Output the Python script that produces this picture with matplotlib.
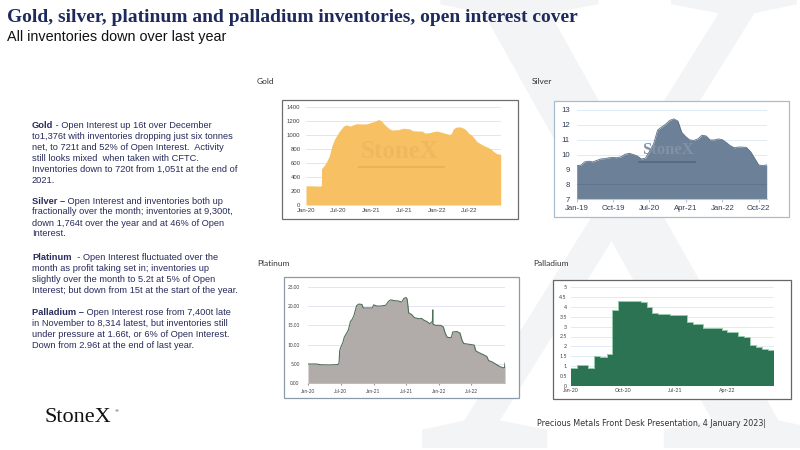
import numpy as np
import pandas as pd
import matplotlib
matplotlib.use('Agg')
from matplotlib import pyplot as plt
import matplotlib.dates as mdates
from matplotlib.patches import Rectangle, PathPatch
from matplotlib.textpath import TextPath
from matplotlib.font_manager import FontProperties
from matplotlib.transforms import Affine2D

W, H = 800, 450

# ---- data ----
gold_dates = ['2020-01-01', '2020-02-01', '2020-03-01', '2020-03-19', '2020-03-27', '2020-03-28',
              '2020-04-16', '2020-04-25', '2020-05-10', '2020-05-25', '2020-06-10', '2020-07-04',
              '2020-07-25', '2020-08-07', '2020-08-19', '2020-09-04', '2020-09-22', '2020-10-10',
              '2020-11-16', '2020-12-10', '2020-12-25', '2021-01-19', '2021-02-10', '2021-02-26',
              '2021-03-13', '2021-03-25', '2021-04-13', '2021-04-25', '2021-06-01', '2021-06-28',
              '2021-08-04', '2021-08-19', '2021-09-16', '2021-10-10', '2021-10-28', '2021-11-19',
              '2021-12-04', '2022-01-01', '2022-02-01', '2022-02-28', '2022-03-16', '2022-03-25',
              '2022-04-04', '2022-04-19', '2022-05-10', '2022-06-01', '2022-06-16', '2022-06-28',
              '2022-07-16', '2022-08-01', '2022-08-13', '2022-09-01', '2022-09-19', '2022-10-19',
              '2022-11-01', '2022-11-16', '2022-12-04', '2022-12-25']
gold_tonnes = [275, 275, 272, 270, 280, 520, 580, 620, 700, 850, 950, 1050,
               1120, 1145, 1145, 1130, 1150, 1165, 1160, 1165, 1180, 1200, 1225, 1205,
               1160, 1130, 1090, 1075, 1080, 1100, 1090, 1065, 1060, 1060, 1030, 1035,
               1045, 1060, 1040, 1020, 1010, 1030, 1090, 1115, 1120, 1100, 1070, 1030,
               1000, 950, 910, 880, 855, 820, 800, 765, 735, 725]

silver_dates = pd.date_range('2019-01-01', '2022-12-01', freq='MS')
silver_kt = [9.25, 9.28, 9.5, 9.55, 9.5, 9.6, 9.7, 9.72, 9.78, 9.8, 9.78, 9.85,
             10.02, 10.08, 10.0, 9.9, 9.7, 9.75, 10.2, 10.7, 11.65, 11.85, 12.05, 12.3,
             12.4, 12.25, 11.5, 11.2, 10.98, 10.95, 11.05, 11.3, 11.25, 10.98, 10.98, 11.05,
             11.0, 10.8, 10.6, 10.45, 10.5, 10.5, 10.48, 10.2, 9.75, 9.3, 9.25, 9.3]

plat_dates = ['2020-01-01', '2020-02-16', '2020-03-13', '2020-05-01', '2020-06-16', '2020-06-22',
              '2020-06-26', '2020-07-01', '2020-07-13', '2020-07-22', '2020-08-04', '2020-08-13',
              '2020-08-25', '2020-09-04', '2020-09-13', '2020-09-22', '2020-09-28', '2020-10-10',
              '2020-10-28', '2020-11-04', '2020-12-25', '2021-01-01', '2021-01-19', '2021-02-10',
              '2021-03-10', '2021-03-25', '2021-04-07', '2021-04-25', '2021-05-19', '2021-06-07',
              '2021-06-19', '2021-07-01', '2021-07-07', '2021-07-16', '2021-08-01', '2021-08-16',
              '2021-09-10', '2021-09-25', '2021-10-10', '2021-10-25', '2021-11-10', '2021-11-19',
              '2021-11-25', '2021-11-27', '2021-11-28', '2021-12-13', '2022-01-10', '2022-01-25',
              '2022-02-04', '2022-02-16', '2022-03-10', '2022-03-19', '2022-04-10', '2022-04-28',
              '2022-05-10', '2022-05-19', '2022-06-16', '2022-07-16', '2022-07-25', '2022-08-13',
              '2022-09-10', '2022-09-25', '2022-10-04', '2022-10-25', '2022-11-16', '2022-12-07',
              '2022-12-28', '2023-01-01', '2023-01-04']
plat_tonnes = [5.0, 5.0, 4.8, 4.75, 4.85, 5.2,
               8.5, 9.2, 10.5, 12.0, 13.0, 13.8,
               16.0, 16.6, 17.5, 19.0, 20.1, 20.5,
               20.4, 19.5, 19.5, 20.3, 20.0, 20.0,
               20.2, 21.2, 21.6, 21.4, 21.3, 21.0,
               22.0, 22.2, 21.8, 18.2, 17.8, 17.0,
               16.7, 16.8, 16.3, 16.0, 15.4, 15.8,
               16.0, 19.0, 15.3, 15.0, 15.0, 14.6,
               13.0, 11.9, 11.8, 13.3, 13.4, 13.0,
               11.0, 10.3, 10.1, 9.9, 8.4, 7.9,
               7.3, 6.9, 5.9, 5.5, 4.9, 4.3,
               4.0, 4.0, 5.2]

pall_dates = ['2020-01-01', '2020-02-01', '2020-04-01', '2020-05-01', '2020-06-01', '2020-07-08',
              '2020-08-01', '2020-09-01', '2021-01-01', '2021-02-01', '2021-03-01', '2021-04-01',
              '2021-06-01', '2021-09-01', '2021-10-01', '2021-11-24', '2022-03-01', '2022-04-01',
              '2022-05-25', '2022-06-28', '2022-07-28', '2022-08-28', '2022-09-30', '2022-10-28',
              '2022-12-01']
pall_tonnes = [0.92, 1.08, 0.93, 1.52, 1.46, 1.64,
               3.85, 4.29, 4.26, 3.97, 3.68, 3.63,
               3.57, 3.22, 3.13, 2.93, 2.81, 2.71,
               2.55, 2.48, 2.09, 1.97, 1.86, 1.82,
               1.82]

gold_ticks = ['2020-01-01', '2020-07-01', '2021-01-01', '2021-07-01', '2022-01-01', '2022-07-01']
silver_ticks = ['2019-01-01', '2019-10-01', '2020-07-01', '2021-04-01', '2022-01-01', '2022-10-01']
plat_ticks = gold_ticks
pall_ticks = ['2020-01-01', '2020-10-01', '2021-07-01', '2022-04-01']

title = 'Gold, silver, platinum and palladium inventories, open interest cover'
subtitle = 'All inventories down over last year'
footer = 'Precious Metals Front Desk Presentation, 4 January 2023|'

paragraphs = [
    ('Gold', [' - Open Interest up 16t over December',
              'to1,376t with inventories dropping just six tonnes',
              'net, to 721t and 52% of Open Interest.  Activity',
              'still looks mixed  when taken with CFTC.',
              'Inventories down to 720t from 1,051t at the end of',
              '2021.'], 125.7),
    ('Silver \u2013', [' Open Interest and inventories both up',
                       'fractionally over the month; inventories at 9,300t,',
                       'down 1,764t over the year and at 46% of Open',
                       'Interest.'], 201),
    ('Platinum', ['  - Open Interest fluctuated over the',
                  'month as profit taking set in; inventories up',
                  'slightly over the month to 5.2t at 5% of Open',
                  'Interest; but down from 15t at the start of the year.'], 257.3),
    ('Palladium \u2013', [' Open Interest rose from 7,400t late',
                          'in November to 8,314 latest, but inventories still',
                          'under pressure at 1.66t, or 6% of Open Interest.',
                          'Down from 2.96t at the end of last year.'], 312.3),
]


def box(x0, y0, x1, y1):
    # pixel box with top-left origin -> figure fraction rect
    return [x0 / W, 1 - y1 / H, (x1 - x0) / W, (y1 - y0) / H]


fig = plt.figure(figsize=(8, 4.5), dpi=100)
fig.patch.set_facecolor('white')

# big pale X watermark
tp = TextPath((0, 0), 'X', size=1, prop=FontProperties(family='Liberation Serif'))
ext = tp.get_extents()
tr = (Affine2D().translate(-ext.x0, -ext.y0).scale(400 / ext.width, 462 / ext.height)
      .translate(422, 2) + Affine2D().scale(1 / W, 1 / H) + fig.transFigure)
fig.add_artist(PathPatch(tp, transform=tr, facecolor='#f3f4f6', edgecolor='none', zorder=-5))


def frame(x0, y0, x1, y1, ec):
    r = Rectangle((x0 / W, 1 - y1 / H), (x1 - x0) / W, (y1 - y0) / H, transform=fig.transFigure,
                  facecolor='white', edgecolor=ec, lw=0.9, zorder=-1)
    fig.add_artist(r)


def style(ax, ticks, grid_c, fs, fam, ypad, xpad):
    for s in ax.spines.values():
        s.set_visible(False)
    ax.set_axisbelow(True)
    ax.yaxis.grid(True, color=grid_c, lw=0.6)
    ax.set_xticks(pd.to_datetime(ticks))
    ax.xaxis.set_major_formatter(mdates.DateFormatter('%b-%y'))
    ax.tick_params(axis='y', length=0, pad=ypad, labelsize=fs, labelcolor='#404040')
    ax.tick_params(axis='x', length=0, pad=xpad, labelsize=fs, labelcolor='#404040')
    for lab in ax.get_xticklabels() + ax.get_yticklabels():
        lab.set_family(fam)


def label(x, y, s):
    fig.text(x / W, 1 - y / H, s, fontsize=6, family='Lato', color='#333333', va='center')


# ---- Gold ----
frame(281.7, 100, 518, 219, '#6d6d6d')
label(257, 82, 'Gold')
ax = fig.add_axes(box(306, 107.3, 500.7, 205))
gd = pd.to_datetime(gold_dates)
ax.fill_between(gd, gold_tonnes, 0, color='#f7c062', lw=0)
ax.set_xlim(gd[0], gd[-1])
ax.set_ylim(0, 1400)
ax.set_yticks(np.arange(0, 1401, 200))
style(ax, gold_ticks, '#dfe0ee', 4.3, 'Liberation Sans', 4, 2)
ax.text(0.48, 0.55, 'StoneX', transform=ax.transAxes, ha='center', va='center',
        family='Liberation Serif', fontweight='bold', fontsize=18, color='#eeb85d')
ax.plot([0.27, 0.71], [0.39, 0.39], transform=ax.transAxes, color='#ecb256', lw=1.5)

# ---- Silver ----
frame(554, 100.7, 789, 216.7, '#a8bccf')
label(532, 81, 'Silver')
ax = fig.add_axes(box(576.7, 110, 766.7, 199))
ax.fill_between(silver_dates, silver_kt, 7, color='#6c8197', lw=0)
ax.plot(silver_dates, silver_kt, color='#5a6f85', lw=0.6)
ax.axhline(8, color='#5d7288', lw=0.5)
ax.set_xlim(silver_dates[0], silver_dates[-1])
ax.set_ylim(7, 13)
ax.set_yticks(np.arange(7, 14, 1))
style(ax, silver_ticks, '#d9e8f5', 5.6, 'Liberation Sans', 5, 2.5)
ax.spines['bottom'].set_visible(True)
ax.spines['bottom'].set_color('#b5c9dc')
ax.tick_params(axis='x', length=2, color='#b5c9dc', labelcolor='#2f3b55')
ax.tick_params(axis='y', labelcolor='#2f3b55')
ax.text(0.48, 0.55, 'StoneX', transform=ax.transAxes, ha='center', va='center',
        family='Liberation Serif', fontweight='bold', fontsize=12, color='#8192a5')
ax.plot([0.33, 0.62], [0.42, 0.42], transform=ax.transAxes, color='#56697e', lw=1.2)

# ---- Platinum ----
frame(284, 276.7, 519, 397.7, '#8c9aa8')
label(257, 263, 'Platinum')
ax = fig.add_axes(box(308, 286.7, 505, 383.3))
pd_ = pd.to_datetime(plat_dates)
ax.fill_between(pd_, plat_tonnes, 0, color='#b1aca9', lw=0)
ax.plot(pd_, plat_tonnes, color='#50705a', lw=0.8)
ax.set_xlim(pd_[0], pd_[-1])
ax.set_ylim(0, 25)
ax.set_yticks(np.arange(0, 26, 5))
ax.yaxis.set_major_formatter(matplotlib.ticker.FormatStrFormatter('%.2f'))
style(ax, plat_ticks, '#dfdff0', 3.4, 'Lato', 6, 2.5)
ax.spines['bottom'].set_visible(True)
ax.spines['bottom'].set_color('#bfbfbf')
ax.spines['bottom'].set_linewidth(0.5)
ax.tick_params(axis='x', length=1.5, color='#999999')

# ---- Palladium ----
frame(553, 280, 791, 399, '#666666')
label(533, 263, 'Palladium')
ax = fig.add_axes(box(571, 287, 774, 386))
pld = pd.to_datetime(pall_dates)
ax.fill_between(pld, pall_tonnes, 0, step='post', color='#2c7353', lw=0)
ax.step(pld, pall_tonnes, where='post', color='#9bcdad', lw=0.7)
ax.set_xlim(pld[0], pld[-1])
ax.set_ylim(0, 5)
ax.set_yticks(np.arange(0, 5.01, 0.5))
ax.yaxis.set_major_formatter(matplotlib.ticker.FormatStrFormatter('%g'))
style(ax, pall_ticks, '#dce8f4', 3.8, 'Lato', 3, 1.5)

# ---- headings ----
fig.text(7 / W, 1 - 18 / H, title, fontsize=14, family='Liberation Serif', fontweight='bold',
         color='#1e2a5c', va='center')
fig.text(7 / W, 1 - 37 / H, subtitle, fontsize=10.4, family='Liberation Sans',
         color='#111111', va='center')

# ---- commentary ----
body_c = '#282c5c'
r = fig.canvas.get_renderer()
for head, lines, y0 in paragraphs:
    for i, line in enumerate(lines):
        y = 1 - (y0 + i * 11) / H
        x = 32 / W
        if i == 0:
            t = fig.text(x, y, head, fontsize=6.7, family='Liberation Sans', fontweight='bold',
                         color=body_c, va='center')
            x = t.get_window_extent(renderer=r).x1 / W
        fig.text(x, y, line, fontsize=6.7, family='Liberation Sans', color=body_c, va='center')

# ---- footer ----
fig.text(45 / W, 1 - 418 / H, 'StoneX', fontsize=16, family='Liberation Serif', color='#111111',
         va='center')
fig.text(114.5 / W, 1 - 411 / H, '\u00ae', fontsize=3, family='DejaVu Sans', color='#111111', va='center')
fig.text(537 / W, 1 - 423 / H, footer, fontsize=5.8, family=['Liberation Sans Narrow', 'DejaVu Sans'],
         color='#333333', va='center')

fig.savefig('out.png', dpi=100)
